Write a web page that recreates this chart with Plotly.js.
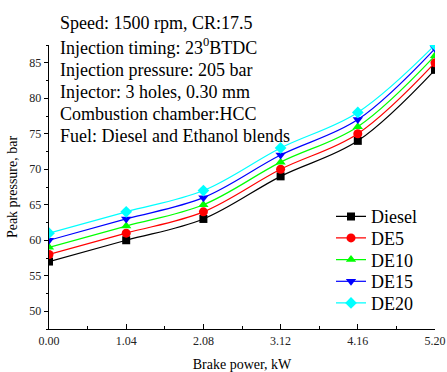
<!DOCTYPE html>
<html><head><meta charset="utf-8">
<script src="https://cdn.plot.ly/plotly-3.0.1.min.js"></script>
<style>html,body{margin:0;padding:0;background:#fff;}#chart{width:447px;height:372px;}</style>
</head><body><div id="chart"></div>
<script>
const brakePower = [0.00, 1.04, 2.08, 3.12, 4.16, 5.20];
const seriesNames = ["Diesel", "DE5", "DE10", "DE15", "DE20"];
const diesel = [57, 60, 63, 69, 74, 84];
const de5 = [58, 61, 64, 70, 75, 85];
const de10 = [59, 62, 65, 71, 76, 86];
const de15 = [60, 63, 66, 72, 77, 87];
const de20 = [61, 64, 67, 73, 78, 87.5];
const xTickLabels = ["0.00", "1.04", "2.08", "3.12", "4.16", "5.20"];
const infoLines = [
  "Speed: 1500 rpm, CR:17.5",
  "Injection timing: 23<sup>0</sup>BTDC",
  "Injection pressure: 205 bar",
  "Injector: 3 holes, 0.30 mm",
  "Combustion chamber:HCC",
  "Fuel: Diesel and Ethanol blends"
];

const allSeries = [diesel, de5, de10, de15, de20];
const colors = ["#000000", "#ff0000", "#00ff00", "#0000ff", "#00ffff"];
const symbols = ["square", "circle", "triangle-up", "triangle-down", "diamond"];
const sizes = [8, 9, 9, 9, 9];
const serif = "Liberation Serif";
const legendIds = ["legend", "legend2", "legend3", "legend4", "legend5"];

const plotTop = 45, plotBottom = 329, plotLeft = 49, plotW = 386;
const py = v => (plotBottom - v) / (plotBottom - plotTop);
const px = v => (v - plotLeft) / plotW;

const traces = allSeries.map((ys, i) => ({
  x: brakePower, y: ys, name: seriesNames[i], type: "scatter", mode: "lines+markers",
  legend: legendIds[i],
  line: {color: colors[i], width: 1.2, shape: "spline", smoothing: 1},
  marker: {color: colors[i], symbol: symbols[i], size: sizes[i]}
}));

const annY = [23.5, 46.5, 69.5, 92, 114, 136];
const annotations = infoLines.map((t, i) => ({
  text: t, xref: "paper", yref: "paper", x: px(58), xanchor: "left",
  y: py(annY[i]), yanchor: "middle",
  showarrow: false, font: {family: serif, size: 18, color: "#000"}
}));

const legY = [216.7, 238.2, 259.9, 281.6, 303.2];
const layout = {
  width: 447, height: 372,
  margin: {l: 49, r: 12, t: 45, b: 43},
  paper_bgcolor: "#fff", plot_bgcolor: "#fff",
  font: {family: serif, color: "#000"},
  showlegend: true,
  xaxis: {
    range: [0, 5.2], tickvals: brakePower, ticktext: xTickLabels,
    ticks: "inside", ticklen: 5, tickwidth: 1, tickcolor: "#000",
    minor: {ticks: "inside", dtick: 0.52, tick0: 0, ticklen: 3, tickcolor: "#000"},
    showline: true, linecolor: "#000", linewidth: 1.3, showgrid: false, zeroline: false,
    tickfont: {family: serif, size: 12, color: "#222"},
    title: {text: "Brake power, kW", font: {family: serif, size: 14, color: "#000"}, standoff: 17}
  },
  yaxis: {
    range: [47.5, 87.5], tick0: 50, dtick: 5,
    ticks: "outside", ticklen: 4, tickwidth: 1, tickcolor: "#000",
    minor: {ticks: "outside", dtick: 2.5, tick0: 47.5, ticklen: 2, tickcolor: "#000"},
    showline: true, linecolor: "#000", linewidth: 1.3, showgrid: false, zeroline: false,
    tickfont: {family: serif, size: 12, color: "#222"},
    title: {text: "Peak pressure, bar", font: {family: serif, size: 14, color: "#000"}, standoff: 8}
  },
  annotations: annotations
};
legendIds.forEach((id, i) => {
  layout[id] = {
    x: px(331), xanchor: "left", y: py(legY[i]), yanchor: "middle",
    bgcolor: "rgba(0,0,0,0)", borderwidth: 0,
    font: {family: serif, size: 18, color: "#000"}, itemwidth: 30
  };
});
Plotly.newPlot("chart", traces, layout, {displayModeBar: false, staticPlot: true});
</script></body></html>
